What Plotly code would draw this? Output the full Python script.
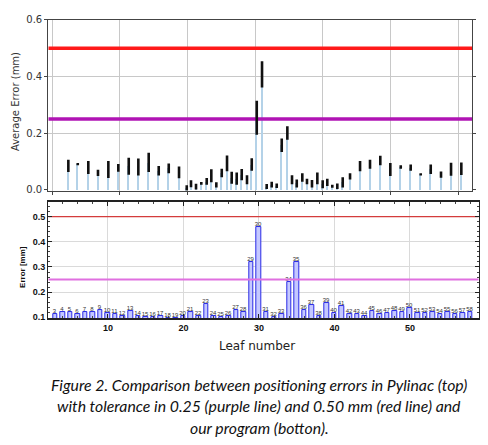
import plotly.graph_objects as go

# top panel (Pylinac): leaf position, mean error and spread, leaves 3..58
top_pos = [24.1, 38.0, 53.6, 67.9, 83.2, 97.9, 113.3, 127.5, 142.8, 157.6, 172.4, 187.6,
           199.0, 205.3, 212.7, 220.5, 228.5, 235.3, 242.7, 250.7, 258.5, 265.4, 272.8, 280.2,
           288.0, 295.0, 302.4, 310.2, 317.1, 324.5, 331.9, 339.3, 347.6, 354.5, 361.5, 369.7,
           376.6, 384.0, 391.9, 399.8, 406.6, 414.0, 421.4, 429.4,
           440.2, 455.0, 469.7, 484.9, 499.7, 515.1, 529.8, 544.6, 559.4, 574.6, 589.4, 604.6]
top_mean = [0.085, 0.091, 0.079, 0.060, 0.072, 0.078, 0.084, 0.081, 0.097, 0.068, 0.076, 0.062,
            0.007, 0.022, 0.012, 0.023, 0.030, 0.050, 0.018, 0.060, 0.094, 0.043, 0.040, 0.054,
            0.036, 0.090, 0.255, 0.408, 0.012, 0.019, 0.015, 0.158, 0.201, 0.036, 0.023, 0.044,
            0.030, 0.022, 0.041, 0.020, 0.027, 0.013, 0.013, 0.027,
            0.048, 0.084, 0.091, 0.104, 0.072, 0.081, 0.079, 0.055, 0.073, 0.054, 0.073, 0.075]
top_err = [0.022, 0.004, 0.023, 0.011, 0.030, 0.014, 0.030, 0.030, 0.034, 0.017, 0.017, 0.021,
           0.010, 0.012, 0.010, 0.005, 0.012, 0.023, 0.009, 0.015, 0.028, 0.021, 0.022, 0.020,
           0.016, 0.022, 0.060, 0.046, 0.009, 0.010, 0.008, 0.024, 0.024, 0.016, 0.014, 0.015,
           0.010, 0.013, 0.021, 0.014, 0.013, 0.005, 0.010, 0.018,
           0.011, 0.018, 0.016, 0.017, 0.023, 0.006, 0.011, 0.004, 0.017, 0.011, 0.023, 0.022]

# bottom panel (our program): error per leaf
leaves = list(range(3, 59))
leaf_err = [0.113, 0.123, 0.121, 0.113, 0.122, 0.122, 0.131, 0.117, 0.113, 0.106, 0.126, 0.106,
            0.101, 0.101, 0.106, 0.099, 0.099, 0.106, 0.122, 0.106, 0.154, 0.106, 0.100, 0.107,
            0.131, 0.121, 0.319, 0.459, 0.121, 0.100, 0.115, 0.240, 0.319, 0.129, 0.150, 0.106,
            0.157, 0.119, 0.145, 0.114, 0.114, 0.106, 0.127, 0.113, 0.119, 0.126, 0.123, 0.135,
            0.119, 0.117, 0.121, 0.115, 0.121, 0.114, 0.118, 0.121]
leaf_labels = [str(n) for n in leaves]

tol_action = 0.50
tol_warn = 0.25

caption = ["Figure 2. Comparison between positioning errors in Pylinac (top)",
           "with tolerance in 0.25 (purple line) and 0.50 mm (red line) and",
           "our program (botton)."]

W, H = 488, 445
top_xrange = [-5.5, 620.8]
bot_xrange = [2.1, 59.1]

fig = go.Figure()

# top: light-blue bars, tolerance lines, black error bars
fig.add_trace(go.Bar(x=top_pos, y=top_mean, width=1.5, marker=dict(color='#b4d2e8', line_width=0),
                     xaxis='x', yaxis='y', showlegend=False))
fig.add_trace(go.Scatter(x=top_xrange, y=[tol_action, tol_action], mode='lines',
                         line=dict(color='#ff1a1a', width=3.5), xaxis='x', yaxis='y', showlegend=False))
fig.add_trace(go.Scatter(x=top_xrange, y=[tol_warn, tol_warn], mode='lines',
                         line=dict(color='#b014b4', width=3.5), xaxis='x', yaxis='y', showlegend=False))
fig.add_trace(go.Scatter(x=top_pos, y=top_mean, mode='markers',
                         marker=dict(size=1, color='#111111'),
                         error_y=dict(type='data', array=top_err, thickness=2.6, width=0, color='#111111'),
                         xaxis='x', yaxis='y', showlegend=False))

# bottom: bar chart with leaf labels
fig.add_trace(go.Bar(x=leaves, y=leaf_err, width=0.6, text=leaf_labels, textposition='outside',
                     textfont=dict(size=6, color='#333333', family='Liberation Sans'),
                     constraintext='none', cliponaxis=False,
                     marker=dict(color='#c4c8ff', line=dict(color='#2a2ae6', width=1)),
                     xaxis='x2', yaxis='y2', showlegend=False))
fig.add_trace(go.Scatter(x=bot_xrange, y=[tol_action, tol_action], mode='lines',
                         line=dict(color='#d43c3c', width=1.4), xaxis='x2', yaxis='y2', showlegend=False))
fig.add_trace(go.Scatter(x=bot_xrange, y=[tol_warn, tol_warn], mode='lines',
                         line=dict(color='#e070e0', width=2), xaxis='x2', yaxis='y2', showlegend=False))


def label(text, x, y, font, angle=0):
    return dict(text=text, x=x / W, y=1 - y / H, xref='paper', yref='paper',
                xanchor='center', yanchor='middle', textangle=angle, showarrow=False, font=font)


annotations = [
    label('Average Error (mm)', 15, 98.5, dict(family='DejaVu Sans', size=10, color='#333333'), -90),
    label('<b>Error [mm]</b>', 23, 267.5, dict(family='Liberation Sans', size=8, color='#111111'), -90),
    label('Leaf number', 257, 349, dict(family='DejaVu Sans', size=12, color='#222222')),
]
for i, line in enumerate(caption):
    annotations.append(label('<i>' + line + '</i>', 259, 388 + 22 * i,
                             dict(family='Lato', size=15.8, color='#111111')))

fig.update_layout(
    width=W, height=H,
    margin=dict(l=0, r=0, t=0, b=0),
    paper_bgcolor='white', plot_bgcolor='white',
    bargap=0,
    annotations=annotations,
    xaxis=dict(domain=[48.3 / W, 472.3 / W], anchor='y', range=top_xrange,
               tickvals=[0, 100, 200, 300, 400, 500, 600], showticklabels=False,
               ticks='outside', ticklen=3, tickcolor='#444444',
               showgrid=True, gridcolor='#c8c8c8', gridwidth=1.2,
               showline=True, linecolor='#444444', linewidth=1.2, mirror=True, zeroline=False),
    yaxis=dict(domain=[1 - 189.2 / H, 1 - 14.3 / H], anchor='x', range=[-0.002, 0.6],
               tickvals=[0, 0.2, 0.4, 0.6], tickformat='.1f',
               ticks='outside', ticklen=3, tickcolor='#444444',
               tickfont=dict(family='DejaVu Sans', size=10, color='#333333'),
               showgrid=True, gridcolor='#c8c8c8', gridwidth=1.2,
               showline=True, linecolor='#444444', linewidth=1.2, mirror='ticks', zeroline=False),
    xaxis2=dict(domain=[48.3 / W, 478.7 / W], anchor='y2', range=bot_xrange,
                tickvals=[10, 20, 30, 40, 50], ticks='inside', ticklen=4, tickcolor='#222222',
                tickfont=dict(family='Liberation Sans', size=9, color='#111111', weight='bold'),
                minor=dict(dtick=2, ticks='inside', ticklen=2, tickcolor='#444444', showgrid=False),
                showgrid=True, gridcolor='#dadada', gridwidth=1,
                showline=True, linecolor='#222222', linewidth=1.6, mirror='allticks', zeroline=False),
    yaxis2=dict(domain=[1 - 320 / H, 1 - 201 / H], anchor='x2', range=[0.097, 0.558],
                tickvals=[0.1, 0.2, 0.3, 0.4, 0.5], tickformat='.1f',
                ticks='inside', ticklen=4, tickcolor='#222222',
                tickfont=dict(family='Liberation Sans', size=9, color='#111111', weight='bold'),
                minor=dict(dtick=0.02, tick0=0.1, ticks='inside', ticklen=2, tickcolor='#444444', showgrid=False),
                showgrid=True, gridcolor='#dadada', gridwidth=1,
                showline=True, linecolor='#222222', linewidth=1.3, mirror='allticks', zeroline=False),
)

# the page body has a default margin; remove it so the figure sits at the window corner
fig.write_html("out.html", config={'displayModeBar': False},
               post_script="document.body.style.margin='0';")
